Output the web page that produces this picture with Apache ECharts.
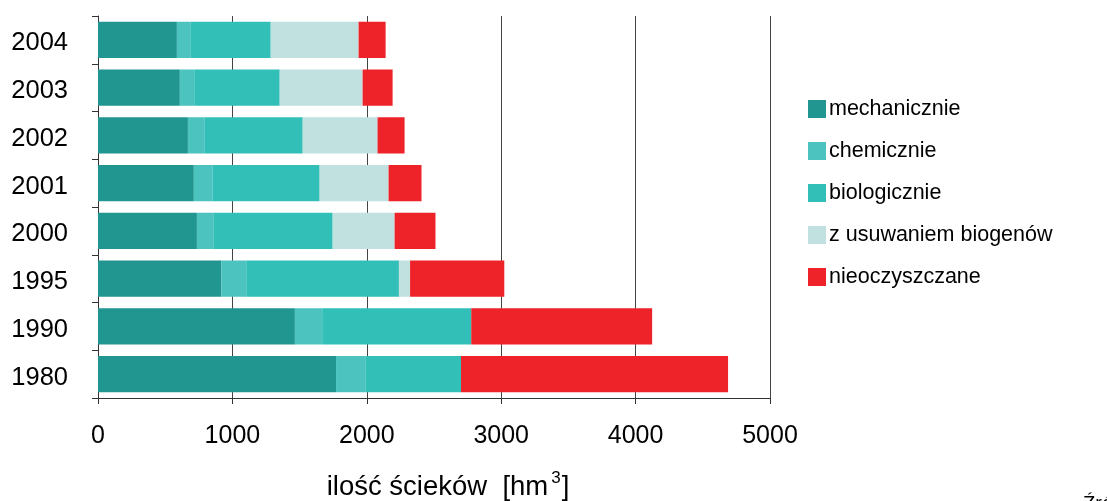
<!DOCTYPE html>
<html><head><meta charset="utf-8">
<script src="https://cdn.jsdelivr.net/npm/echarts@6/dist/echarts.min.js"></script>
<style>html,body{margin:0;padding:0;background:#fff}#c{width:1107px;height:501px}</style>
</head><body><div id="c"></div>
<script>
const categories = ['1980','1990','1995','2000','2001','2002','2003','2004'];
const mechaniczne = [1771, 1465, 917, 736, 713, 669, 609, 587];
const chemiczne = [222, 203, 186, 126, 141, 126, 112, 104];
const biologiczne = [708, 1109, 1136, 884, 795, 728, 631, 594];
const biogeny = [0, 0, 83, 461, 513, 557, 617, 654];
const nieoczyszczane = [1987, 1346, 701, 304, 245, 201, 223, 201];
const xTicks = [0, 1000, 2000, 3000, 4000, 5000];
const seriesNames = ['mechanicznie','chemicznie','biologicznie','z usuwaniem biogenów','nieoczyszczane'];
const colors = ['#21958F','#4DC3BF','#31BFB8','#C0E1E0','#EE2229'];
const values = [mechaniczne, chemiczne, biologiczne, biogeny, nieoczyszczane];
const font = 'Liberation Sans, Arial, sans-serif';
const chart = echarts.init(document.getElementById('c'));
chart.setOption({
  animation: false,
  grid: {left: 98, right: 337, top: 16, bottom: 103, outerBoundsMode: 'none', containLabel: false},
  legend: {
    orient: 'vertical', left: 803, top: 93, itemWidth: 18, itemHeight: 18, itemGap: 20,
    icon: 'rect',
    textStyle: {fontFamily: font, fontSize: 21.5, color: '#000', padding: [0,0,0,-2]},
    data: seriesNames
  },
  xAxis: {
    type: 'value', min: xTicks[0], max: xTicks[xTicks.length-1], interval: 1000,
    axisLine: {show: true, lineStyle: {color: '#333', width: 1}},
    axisTick: {show: true, length: 6, lineStyle: {color: '#333'}},
    splitLine: {show: true, lineStyle: {color: '#444', width: 1}},
    axisLabel: {fontFamily: font, fontSize: 25, color: '#000', margin: 26, formatter: v => String(v)},
    name: '{a|ilość ścieków  [hm}{s|3}{a|]}',
    nameLocation: 'middle', nameGap: 72,
    nameTextStyle: {padding: [0,0,0,28], rich: {
      a: {fontFamily: font, fontSize: 27.5, color: '#000', verticalAlign: 'bottom'},
      s: {fontFamily: font, fontSize: 17, color: '#000', verticalAlign: 'top', padding: [0,1,14,3]}
    }}
  },
  yAxis: {
    type: 'category', data: categories,
    axisLine: {show: true, lineStyle: {color: '#333', width: 1}},
    axisTick: {show: true, length: 6, lineStyle: {color: '#333'}},
    axisLabel: {margin: 30, formatter: v => '{y|' + v + '}',
      rich: {y: {fontFamily: font, fontSize: 25.5, color: '#000', padding: [7,0,0,0]}}},
    splitLine: {show: false}
  },
  series: seriesNames.map((n, i) => ({
    name: n, type: 'bar', stack: 'total', data: values[i],
    barCategoryGap: '24%',
    itemStyle: {color: colors[i]}
  })),
  graphic: [{
    type: 'text', left: 1083, top: 494,
    style: {text: 'Źródło', fontFamily: font, fontSize: 20, fill: '#000'}
  }]
});
</script></body></html>
